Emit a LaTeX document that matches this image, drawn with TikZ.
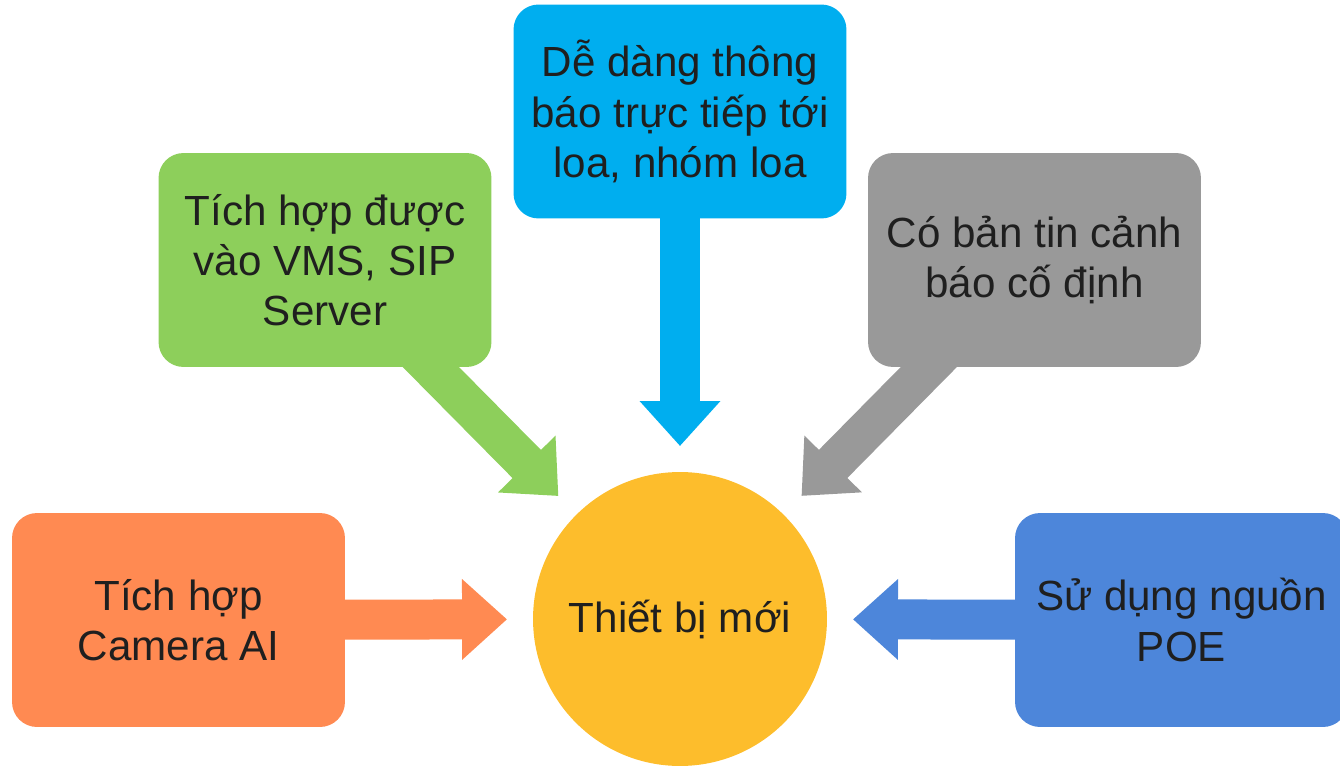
\documentclass[tikz,border=0pt]{standalone}
\usepackage{fontspec}
\setmainfont{Liberation Sans}
\usetikzlibrary{arrows.meta,backgrounds}

\definecolor{camorange}{HTML}{FF8A52}
\definecolor{vmsgreen}{HTML}{8DCF5B}
\definecolor{loablue}{HTML}{00AEEF}
\definecolor{tingray}{HTML}{999999}
\definecolor{poeblue}{HTML}{4D86DA}
\definecolor{coreyellow}{HTML}{FDBD2C}

\tikzset{
    idea/.style={rectangle, rounded corners=0.5cm, minimum width=6.66cm,
        minimum height=4.28cm, align=center, text=black!88,
        font=\fontsize{24}{28.6}\selectfont},
    feed/.style={line width=0.8cm, -{Triangle[length=0.9cm,width=1.56cm]},
        shorten >=3.46cm},
}

\begin{document}
\begin{tikzpicture}[x=0.02cm, y=-0.02cm]
    \useasboundingbox (0,0) rectangle (1340,767);

    \node[circle, fill=coreyellow, minimum size=5.88cm, inner sep=0pt,
        text=black!88, font=\fontsize{24}{28.6}\selectfont]
        (core) at (680,619) {Thiết bị mới};

    \node[idea, fill=camorange] (cam) at (178.5,620) {Tích hợp\\Camera AI};
    \node[idea, fill=vmsgreen] (vms) at (325,260) {Tích hợp được\\vào VMS, SIP\\Server};
    \node[idea, fill=loablue] (loa) at (680,111.5) {Dễ dàng thông\\báo trực tiếp tới\\loa, nhóm loa};
    \node[idea, fill=tingray] (tin) at (1034.5,260) {Có bản tin cảnh\\báo cố định};
    \node[idea, fill=poeblue] (poe) at (1181.5,620) {Sử dụng nguồn\\POE};

    \begin{scope}[on background layer]
        \draw [feed, camorange] (cam.center) -- (core.center);
        \draw [feed, vmsgreen] (vms.center) -- (core.center);
        \draw [feed, loablue] (loa.center) -- (core.center);
        \draw [feed, tingray] (tin.center) -- (core.center);
        \draw [feed, poeblue] (poe.center) -- (core.center);
    \end{scope}

\end{tikzpicture}
\end{document}
